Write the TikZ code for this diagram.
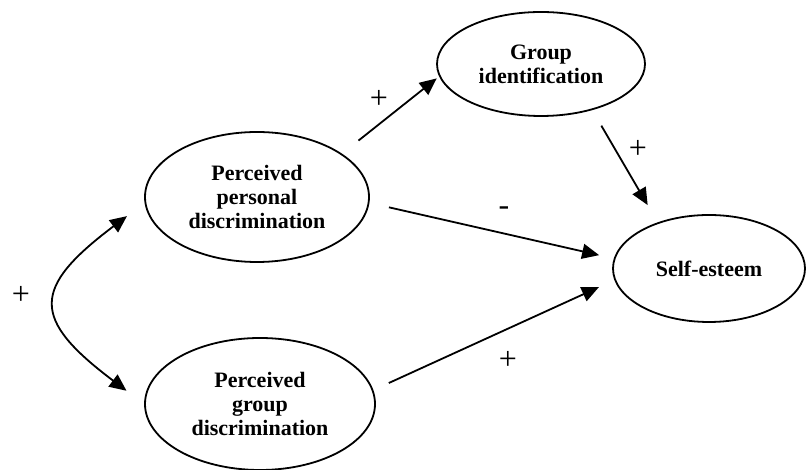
\documentclass[tikz,border=0pt]{standalone}
\usepackage{fontspec}
\setmainfont{Liberation Serif}
\usetikzlibrary{arrows.meta}
\usetikzlibrary{shapes.geometric}

\begin{document}
\begin{tikzpicture}[x=1pt, y=1pt,
		latent/.style={draw, ellipse, line width=1.8pt, inner sep=0pt, align=center,
			font=\fontsize{22}{24}\selectfont\bfseries},
		effect/.style={line width=1.8pt, -{Triangle[length=17pt, width=15pt]}},
		sign/.style={inner sep=0pt, font=\fontsize{32}{32}\selectfont}]
		\useasboundingbox (0, 0) rectangle (806, 470);
		% latent variables
		\node[latent, minimum width=224, minimum height=130] (pers) at (257, 273) {Perceived\\personal\\discrimination};
		\node[latent, minimum width=230, minimum height=132] (grp) at (260, 66) {Perceived\\group\\discrimination};
		\node[latent, minimum width=208, minimum height=104] (ident) at (541, 406) {Group\\identification};
		\node[latent, minimum width=192, minimum height=107] (self) at (709, 201.5) {Self-esteem};
		% paths
		\draw[effect, shorten <=21pt, shorten >=3pt] (pers.27) -- (ident.187);
		\draw[effect, shorten <=18pt, shorten >=20pt] (ident.318) -- (self.138);
		\draw[effect, shorten <=20pt, shorten >=15pt] (pers.357) -- (self.174);
		\draw[effect, shorten <=17pt, shorten >=17pt] (grp.7) -- (self.187);
		\draw[effect, {Triangle[length=17pt, width=15pt]}-{Triangle[length=17pt, width=15pt]},
			shorten <=22pt, shorten >=22pt] (pers.183) to[out=217, in=143, looseness=1.8] (grp.180);
		% signs
		\node[sign] (s1) at (21, 175) {+};
		\node[sign] (s2) at (379, 371) {+};
		\node[sign] (s3) at (638, 321) {+};
		\node[sign] (s4) at (504, 259) {-};
		\node[sign] (s5) at (508, 110) {+};
	\end{tikzpicture}
\end{document}
